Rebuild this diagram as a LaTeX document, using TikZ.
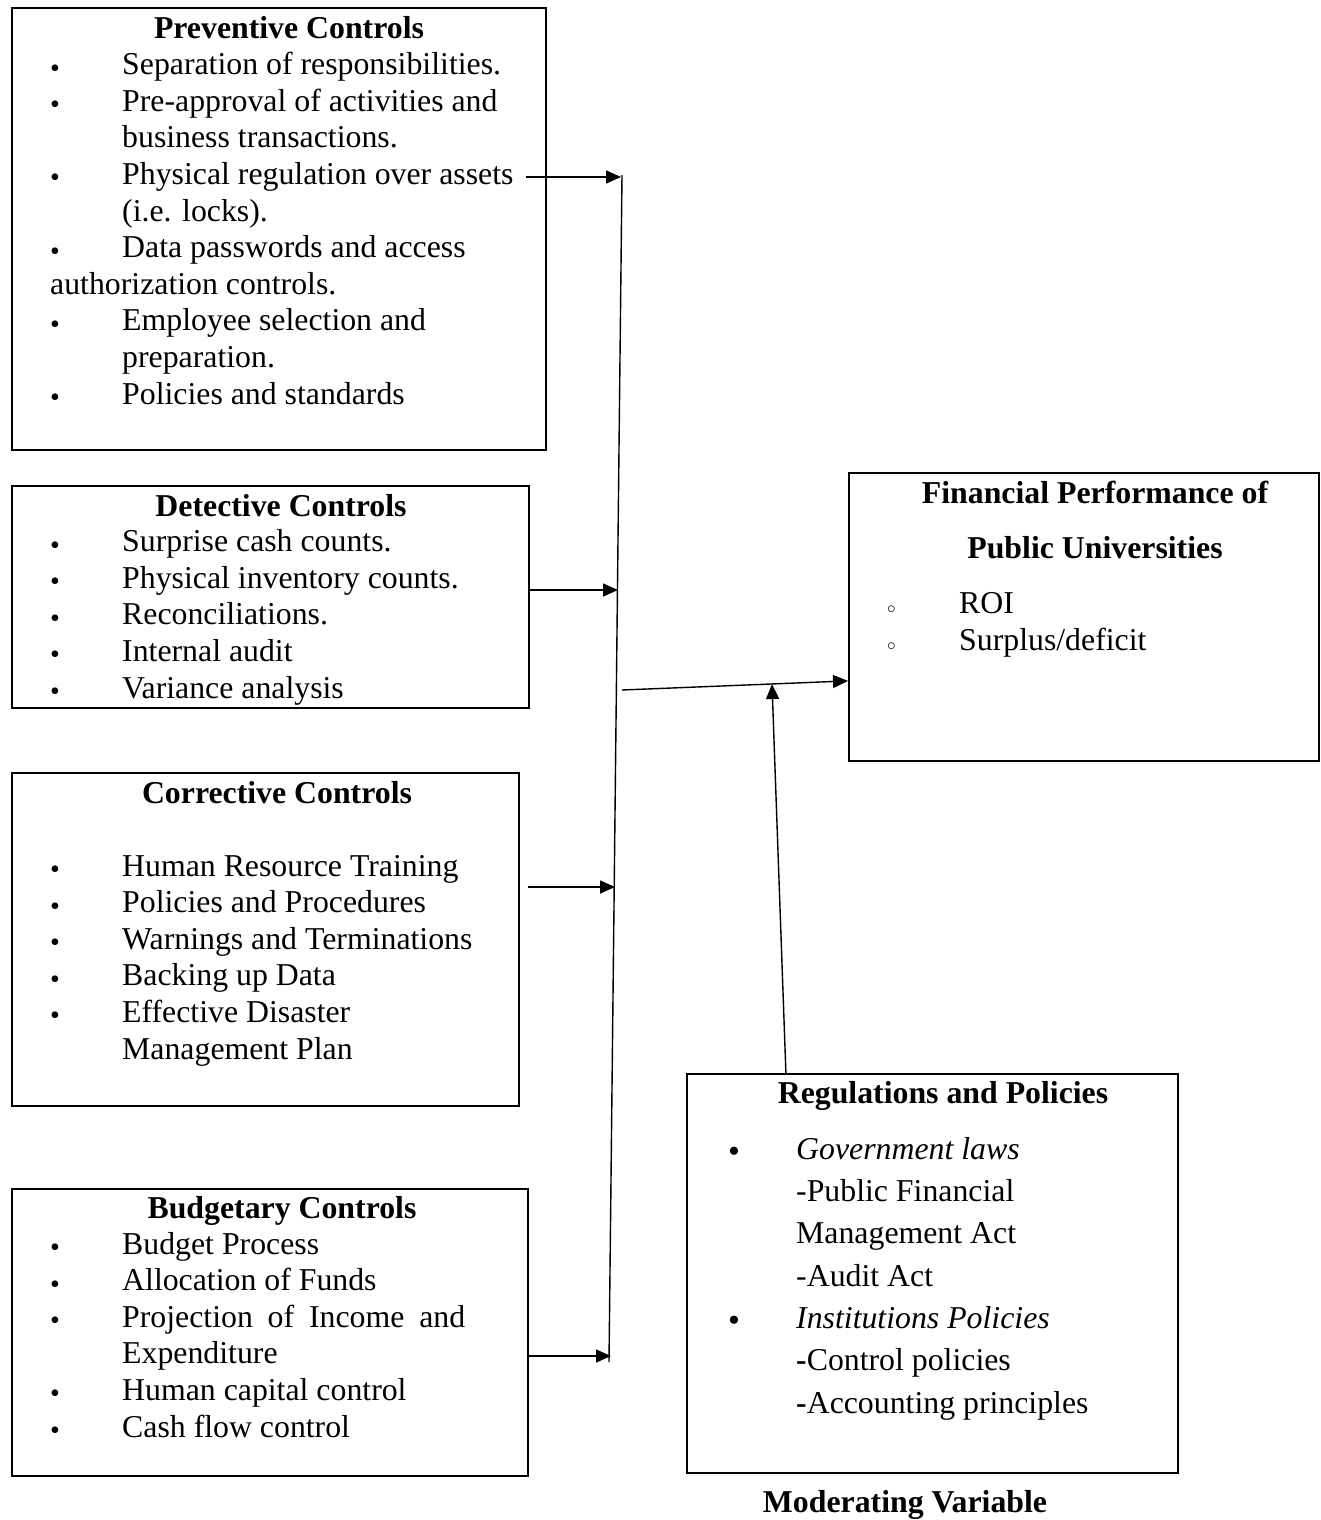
\documentclass[tikz,border=0pt]{standalone}
\usepackage{fontspec}
\setmainfont{Liberation Serif}
\usetikzlibrary{arrows.meta}

\newcommand{\smallbul}{\makebox[72pt][l]{\raisebox{-2.5pt}{\fontsize{28}{28}\selectfont\textbullet}}}
\newcommand{\ringbul}{\makebox[72pt][l]{\fontsize{16}{16}\selectfont$\circ$}}
\newcommand{\bigbul}{\makebox[68pt][l]{\raisebox{-3pt}{\fontsize{34}{34}\selectfont\textbullet}}}
\newcommand{\skipbul}[1]{\hspace*{#1}}

\begin{document}
\begin{tikzpicture}
      [x=1pt, y=-1pt,
        blk/.style={draw, line width=1.8pt, inner sep=0pt, anchor=north west},
        hd/.style={font=\fontsize{31.8}{36.6}\selectfont\bfseries, anchor=base, inner sep=0pt},
        lst/.style={font=\fontsize{31.8}{36.6}\selectfont, align=left, anchor=base west, inner sep=0pt},
        arr/.style={line width=1.4pt, -{Triangle[length=15pt,width=13pt]}},
        ln/.style={line width=1.4pt}]
      \useasboundingbox (0,0) rectangle (1321,1520);

      % independent variables (list nodes sit on the baseline of their last line)
      \node[blk, minimum width=534pt, minimum height=442pt] (prev) at (11,7) {};
      \node[hd] (prevT) at (289,38) {Preventive Controls};
      \node[lst] (prevL) at (50,404) {\smallbul Separation of responsibilities.\\
        \smallbul Pre-approval of activities and\\
        \skipbul{72pt}business transactions.\\
        \smallbul Physical regulation over assets\\
        \skipbul{72pt}(i.e. locks).\\
        \smallbul Data passwords and access\\
        authorization controls.\\
        \smallbul Employee selection and\\
        \skipbul{72pt}preparation.\\
        \smallbul Policies and standards};

      \node[blk, minimum width=517pt, minimum height=222pt] (det) at (11,485) {};
      \node[hd] (detT) at (281,516) {Detective Controls};
      \node[lst] (detL) at (50,698) {\smallbul Surprise cash counts.\\
        \smallbul Physical inventory counts.\\
        \smallbul Reconciliations.\\
        \smallbul Internal audit\\
        \smallbul Variance analysis};

      \node[blk, minimum width=507pt, minimum height=333pt] (cor) at (11,772) {};
      \node[hd] (corT) at (277,803) {Corrective Controls};
      \node[lst] (corL) at (50,1059) {\smallbul Human Resource Training\\
        \smallbul Policies and Procedures\\
        \smallbul Warnings and Terminations\\
        \smallbul Backing up Data\\
        \smallbul Effective Disaster\\
        \skipbul{72pt}Management Plan};

      \node[blk, minimum width=516pt, minimum height=287pt] (bud) at (11,1188) {};
      \node[hd] (budT) at (282,1218) {Budgetary Controls};
      \node[lst] (budL) at (50,1437) {\smallbul Budget Process\\
        \smallbul Allocation of Funds\\
        \smallbul \makebox[343pt][s]{Projection of Income and}\\
        \skipbul{72pt}Expenditure\\
        \smallbul Human capital control\\
        \smallbul Cash flow control};

      % dependent variable
      \node[blk, minimum width=470pt, minimum height=288pt] (fin) at (848,472) {};
      \node[hd, align=center, font=\fontsize{31.8}{55}\selectfont\bfseries] (finT) at (1095,558)
        {Financial Performance of\\ Public Universities};
      \node[lst] (finL) at (887,650) {\ringbul ROI\\ \ringbul Surplus/deficit};

      % moderating variable
      \node[blk, minimum width=491pt, minimum height=399pt] (reg) at (686,1073) {};
      \node[hd] (regT) at (943,1103) {Regulations and Policies};
      \node[lst, font=\fontsize{31.8}{42.3}\selectfont] (regL) at (728,1413) {\bigbul\textit{Government laws}\\
        \skipbul{68pt}-Public Financial\\
        \skipbul{68pt}Management Act\\
        \skipbul{68pt}-Audit Act\\
        \bigbul\textit{Institutions Policies}\\
        \skipbul{68pt}\textbf{-}Control policies\\
        \skipbul{68pt}\textbf{-}Accounting principles};
      \node[hd] (modT) at (905,1512) {Moderating Variable};

      % connectors
      \coordinate (busTop) at (622,175);
      \coordinate (busBot) at (609,1362);
      \coordinate (prevOut) at (526,177);
      \coordinate (prevIn) at (621,177);
      \coordinate (detIn) at (618,590);
      \coordinate (corIn) at (615,887);
      \coordinate (budIn) at (611,1356);
      \coordinate (busOut) at (622,690);
      \coordinate (modIn) at (772,684);
      \draw[ln] (busTop) -- (busBot);
      \draw[arr] (prevOut) -- (prevIn);
      \draw[arr] (det.east |- detIn) -- (detIn);
      \draw[arr, shorten <=8pt] (cor.east |- corIn) -- (corIn);
      \draw[arr] (bud.east |- budIn) -- (budIn);
      \draw[arr] (busOut) -- ([yshift=-64pt]fin.west);
      \draw[arr] ([xshift=-146.5pt]reg.north) -- (modIn);
    \end{tikzpicture}
\end{document}
